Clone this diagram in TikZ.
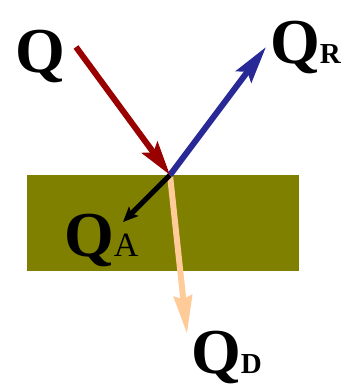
\documentclass[tikz,border=0pt]{standalone}
\usepackage{fontspec}
\setmainfont{Liberation Serif}
\usetikzlibrary{arrows.meta}
\definecolor{qred}{RGB}{153,0,0}
\definecolor{qblue}{RGB}{40,40,150}
\definecolor{qolive}{RGB}{128,128,0}
\definecolor{qpeach}{RGB}{255,204,153}
\tikzset{
  lbl/.style={inner sep=0pt, anchor=base west, font=\fontsize{64}{64}\selectfont\bfseries},
  ray/.style={line width=6pt},
}
\newcommand{\subb}[1]{{\fontsize{29}{29}\selectfont\bfseries #1}}
\begin{document}
\begin{tikzpicture}[x=1pt,y=-1pt]
\useasboundingbox (0,0) rectangle (345,384);
\fill[qolive] (27,175) rectangle (299,271);
\coordinate (src) at (76,47);
\coordinate (hit) at (170,175);
\coordinate (rtip) at (266,47);
\coordinate (atip) at (123,222);
\coordinate (dtip) at (187,334);
\draw[ray, qpeach, -{Stealth[length=38pt,width=18pt,inset=3pt]}] (hit) -- (dtip);
\draw[line width=5pt, black, -{Stealth[length=15pt,width=13pt,inset=3pt]}] (hit) -- (atip);
\draw[ray, qblue, -{Stealth[length=37pt,width=19pt,inset=6pt]}] (hit) -- (rtip);
\draw[ray, qred, -{Stealth[length=34pt,width=19pt,inset=6pt]}] (src) -- (hit);
\node[lbl] (q) at (15,72) {Q};
\node[lbl] (qr) at (270,63) {Q\subb{R}};
\node[lbl] (qa) at (64,256) {Q{\fontsize{34}{34}\selectfont\mdseries A}};
\node[lbl] (qd) at (191,373) {Q\subb{D}};
\end{tikzpicture}
\end{document}
